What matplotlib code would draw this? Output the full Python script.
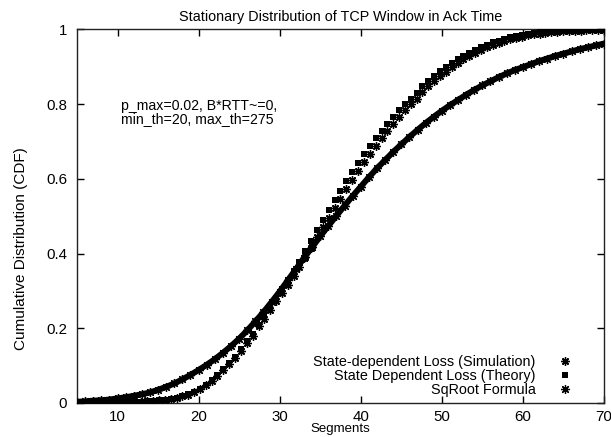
import numpy as np
import matplotlib
matplotlib.use("Agg")
import matplotlib.pyplot as plt

plt.rcParams['font.family'] = ['Liberation Sans', 'DejaVu Sans']

# ---- data ----
x_grid = [5.00, 5.72, 6.44, 7.17, 7.89, 8.61, 9.33, 10.06, 10.78, 11.50, 12.22, 12.94, 13.67,
          14.39, 15.11, 15.83, 16.56, 17.28, 18.00, 18.72, 19.44, 20.17, 20.89, 21.61, 22.33,
          23.06, 23.78, 24.50, 25.22, 25.94, 26.67, 27.39, 28.11, 28.83, 29.56, 30.28, 31.00,
          31.72, 32.44, 33.17, 33.89, 34.61, 35.33, 36.06, 36.78, 37.50, 38.22, 38.94, 39.67,
          40.39, 41.11, 41.83, 42.56, 43.28, 44.00, 44.72, 45.44, 46.17, 46.89, 47.61, 48.33,
          49.06, 49.78, 50.50, 51.22, 51.94, 52.67, 53.39, 54.11, 54.83, 55.56, 56.28, 57.00,
          57.72, 58.44, 59.17, 59.89, 60.61, 61.33, 62.06, 62.78, 63.50, 64.22, 64.94, 65.67,
          66.39, 67.11, 67.83, 68.56, 69.28, 70.00]

theory_cdf = [0.000, 0.000, 0.000, 0.000, 0.000, 0.000, 0.001, 0.001, 0.001, 0.002, 0.002, 0.003, 0.004,
              0.005, 0.007, 0.009, 0.011, 0.014, 0.018, 0.023, 0.029, 0.038, 0.049, 0.062, 0.075,
              0.092, 0.106, 0.124, 0.144, 0.165, 0.185, 0.209, 0.232, 0.257, 0.282, 0.306, 0.330,
              0.353, 0.378, 0.406, 0.434, 0.462, 0.490, 0.516, 0.542, 0.568, 0.593, 0.618, 0.642,
              0.666, 0.688, 0.708, 0.728, 0.747, 0.766, 0.783, 0.799, 0.814, 0.831, 0.849, 0.863,
              0.876, 0.888, 0.899, 0.910, 0.920, 0.929, 0.938, 0.946, 0.953, 0.959, 0.965, 0.970,
              0.975, 0.979, 0.982, 0.985, 0.988, 0.990, 0.992, 0.993, 0.994, 0.995, 0.996, 0.997,
              0.997, 0.998, 0.998, 0.999, 0.999, 0.999]

simulation_cdf = [0.000, 0.000, 0.000, 0.000, 0.000, 0.000, 0.001, 0.001, 0.001, 0.002, 0.002, 0.003, 0.004,
                  0.005, 0.007, 0.009, 0.011, 0.014, 0.018, 0.022, 0.028, 0.036, 0.047, 0.060, 0.073,
                  0.089, 0.104, 0.121, 0.140, 0.160, 0.180, 0.205, 0.226, 0.249, 0.272, 0.294, 0.317,
                  0.340, 0.363, 0.390, 0.416, 0.443, 0.470, 0.496, 0.521, 0.547, 0.572, 0.597, 0.621,
                  0.645, 0.667, 0.688, 0.709, 0.729, 0.748, 0.766, 0.783, 0.799, 0.815, 0.833, 0.848,
                  0.862, 0.875, 0.887, 0.899, 0.910, 0.920, 0.929, 0.937, 0.945, 0.952, 0.958, 0.964,
                  0.969, 0.974, 0.978, 0.981, 0.984, 0.987, 0.989, 0.991, 0.992, 0.994, 0.995, 0.996,
                  0.997, 0.997, 0.998, 0.998, 0.999, 0.999]

x_sqroot = [5, 6, 7, 8, 9, 10, 11, 12, 13, 14, 15, 16, 17, 18, 19, 20, 21, 22, 23, 24, 25, 26, 27,
            28, 29, 30, 31, 32, 33, 34, 35, 36, 37, 38, 39, 40, 41, 42, 43, 44, 45, 46, 47, 48, 49,
            50, 51, 52, 53, 54, 55, 56, 57, 58, 59, 60, 61, 62, 63, 64, 65, 66, 67, 68, 69, 70]
sqroot_cdf = [0.003, 0.004, 0.006, 0.007, 0.009, 0.012, 0.015, 0.019, 0.023, 0.028, 0.035, 0.043,
              0.052, 0.063, 0.075, 0.088, 0.102, 0.117, 0.134, 0.152, 0.172, 0.194, 0.218, 0.243,
              0.270, 0.298, 0.328, 0.358, 0.388, 0.417, 0.446, 0.474, 0.501, 0.528, 0.554, 0.579,
              0.604, 0.628, 0.650, 0.672, 0.692, 0.712, 0.731, 0.749, 0.766, 0.782, 0.797, 0.811,
              0.825, 0.838, 0.850, 0.861, 0.872, 0.882, 0.891, 0.899, 0.907, 0.915, 0.922, 0.929,
              0.935, 0.941, 0.947, 0.952, 0.957, 0.962]

x_ticks = [10, 20, 30, 40, 50, 60, 70]
y_ticks = [0, 0.2, 0.4, 0.6, 0.8, 1]
y_ticklabels = ["0", "0.2", "0.4", "0.6", "0.8", "1"]

title = "Stationary Distribution of TCP Window in Ack Time"
annotation = "p_max=0.02, B*RTT~=0,\nmin_th=20, max_th=275"

# ---- figure ----
fig = plt.figure(figsize=(6.11, 4.37), dpi=100)
ax = fig.add_axes([0.126, 0.078, 0.8625, 0.8547])

star = (8, 2, 0)
ax.plot(x_sqroot, sqroot_cdf, color='black', lw=4.3, zorder=2)
h3, = ax.plot(x_sqroot, sqroot_cdf, linestyle='none', marker=star, ms=6.5, mew=0.9,
              color='black', label='SqRoot Formula', zorder=3)
h2, = ax.plot(x_grid, theory_cdf, linestyle='none', marker='s', ms=5.0, mew=0,
              color='black', label='State Dependent Loss (Theory)', zorder=4)
h1, = ax.plot(x_grid, simulation_cdf, linestyle='none', marker=star, ms=6.0, mew=1.0,
              color='black', label='State-dependent Loss (Simulation)', zorder=5)

ax.set_xlim(5, 70)
ax.set_ylim(0, 1)
ax.set_xticks(x_ticks)
ax.set_yticks(y_ticks)
ax.set_yticklabels(y_ticklabels)
ax.tick_params(direction='in', top=True, right=True, length=5, width=1,
               labelsize=10.8, colors='black')
ax.tick_params(axis='x', pad=5)
ax.tick_params(axis='y', pad=7)
for s in ax.spines.values():
    s.set_linewidth(1.0)
    s.set_color('#222222')

ax.set_title(title, fontsize=10.4, pad=6)
ax.set_xlabel("Segments", fontsize=9.5)
ax.xaxis.set_label_coords(0.5, -0.053)
ax.set_ylabel("Cumulative Distribution (CDF)", fontsize=11)
ax.yaxis.set_label_coords(-0.093, 0.412)

ax.text(0.0835, 0.778, annotation, transform=ax.transAxes, fontsize=10.2,
        ha='left', va='center', linespacing=0.93)

leg = ax.legend(handles=[h1, h2, h3], loc='lower right', markerfirst=False, frameon=False,
                fontsize=10.4, handlelength=1.0, handletextpad=1.5, labelspacing=0.0,
                bbox_to_anchor=(0.939, 0.016), borderaxespad=0.0, borderpad=0.0)
for t in leg.get_texts():
    t.set_ha('right')
leg._legend_box.align = "right"

fig.savefig("out.png", dpi=100)
